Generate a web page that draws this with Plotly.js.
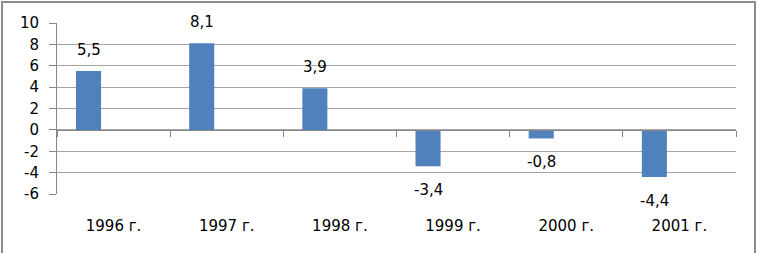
<!DOCTYPE html>
<html><head><meta charset="utf-8">
<script src="https://cdn.plot.ly/plotly-3.0.1.min.js"></script>
<style>
html,body{margin:0;padding:0;background:#fff;}
#frame{position:absolute;left:1px;top:1px;width:755px;height:253px;border:2px solid #8c8c8c;border-bottom:none;box-sizing:border-box;}
#chart{position:absolute;left:0;top:0;width:758px;height:253px;}
</style></head>
<body>
<div id="chart"></div>
<div id="frame"></div>
<script>
const categories = ['1996 г.', '1997 г.', '1998 г.', '1999 г.', '2000 г.', '2001 г.'];
const values = [5.5, 8.1, 3.9, -3.4, -0.8, -4.4];
const yTickVals = [-6, -4, -2, 0, 2, 4, 6, 8, 10];
const yTickText = ['-6', '-4', '-2', '0', '2', '4', '6', '8', '10'];

const font = '"DejaVu Sans", sans-serif';
const empty = categories.map(() => null);

const traces = [
  {type:'bar', x:categories, y:values, marker:{color:'#4F81BD'}, hoverinfo:'none'},
  {type:'bar', x:categories, y:empty, marker:{color:'#C0504D'}, hoverinfo:'none'},
  {type:'bar', x:categories, y:empty, marker:{color:'#9BBB59'}, hoverinfo:'none'},
  {type:'scatter', x:categories, y:empty, xaxis:'x2', mode:'markers', hoverinfo:'none'}
];

const annotations = categories.map((c, i) => ({
  x: c, y: values[i], xref:'x', yref:'y',
  text: values[i].toFixed(1).replace('.', ','),
  showarrow:false, xshift:-25,
  yanchor: values[i] >= 0 ? 'bottom' : 'top',
  yshift: values[i] >= 0 ? 10 : -13,
  font:{family:font, size:15, color:'#000'}
}));

const layout = {
  width:758, height:253,
  margin:{l:57, r:22, t:23, b:59},
  paper_bgcolor:'#fff', plot_bgcolor:'#fff',
  showlegend:false,
  barmode:'group', bargap:0.336, bargroupgap:0,
  font:{family:font, size:15, color:'#000'},
  annotations: annotations,
  xaxis:{type:'category', showgrid:false, zeroline:false, showline:false,
         ticks:'', tickfont:{family:font, size:15, color:'#000'}, ticklabelstandoff:21},
  xaxis2:{type:'category', overlaying:'x', anchor:'free', position:0.375,
          matches:'x', showgrid:false, zeroline:false, showline:true, linecolor:'#868686', linewidth:1,
          ticks:'outside', ticklen:6, tickcolor:'#868686', tickson:'boundaries', showticklabels:false},
  yaxis:{range:[-6,10], tickvals:yTickVals, ticktext:yTickText, showgrid:true, gridcolor:'#A6A6A6', gridwidth:1,
         zeroline:false, showline:true, linecolor:'#868686', linewidth:1,
         ticks:'outside', ticklen:7, tickcolor:'#868686',
         tickfont:{family:font, size:15, color:'#000'}, ticklabelstandoff:7}
};

Plotly.newPlot('chart', traces, layout, {displayModeBar:false, staticPlot:true});
</script>
</body></html>
